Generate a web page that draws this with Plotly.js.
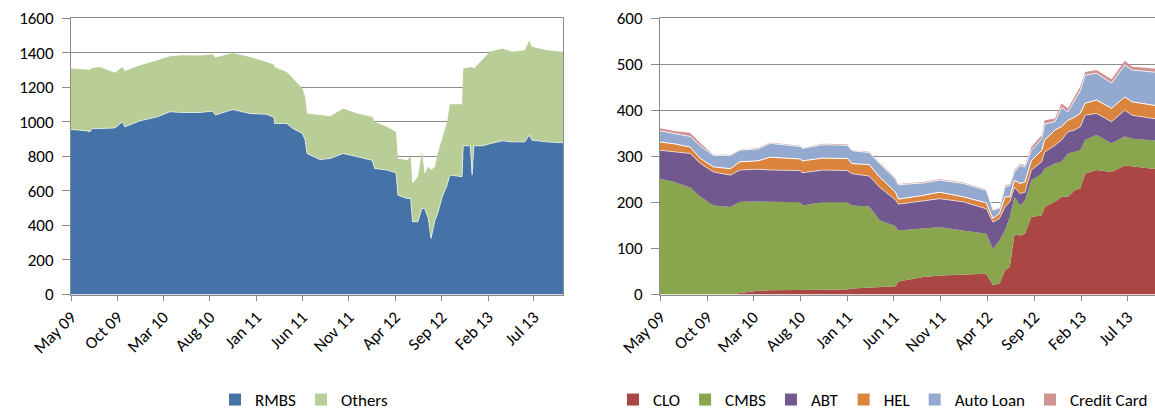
<!DOCTYPE html>
<html><head><meta charset="utf-8">
<script src="https://cdn.plot.ly/plotly-3.0.1.min.js"></script>
<style>html,body{margin:0;padding:0;overflow:hidden;background:#fff}#chart{width:1158px;height:410px}</style>
</head><body><div id="chart"></div><script>
// ---- Left chart data ----
const leftDates = ['2009-05-01','2009-06-22','2009-07-01','2009-07-10','2009-08-04','2009-09-23','2009-10-17','2009-10-25','2009-12-15','2010-02-10','2010-03-22','2010-05-04','2010-06-28','2010-08-10','2010-08-19','2010-10-15','2010-12-10','2011-02-03','2011-02-28','2011-03-01','2011-04-10','2011-05-01','2011-06-01','2011-06-10','2011-06-16','2011-07-28','2011-09-01','2011-10-13','2011-11-28','2012-01-16','2012-01-25','2012-03-04','2012-04-04','2012-04-10','2012-05-10','2012-05-22','2012-05-28','2012-06-15','2012-06-28','2012-07-07','2012-07-19','2012-07-28','2012-08-10','2012-08-19','2012-09-03','2012-09-19','2012-09-28','2012-11-07','2012-11-11','2012-12-04','2012-12-10','2012-12-16','2013-01-13','2013-02-07','2013-03-20','2013-04-22','2013-06-01','2013-06-16','2013-06-25','2013-08-13','2013-10-05'];
const rmbs = [955,947,940,960,960,964,999,970,1005,1028,1057,1053,1053,1061,1038,1070,1047,1043,1024,990,990,960,932,893,816,781,787,816,797,777,729,720,704,575,556,556,421,421,498,498,440,324,430,469,565,633,691,681,860,860,691,860,860,873,889,883,883,922,893,883,878];
const others = [353,351,360,350,357,319,318,324,322,328,322,332,330,328,333,328,328,303,306,327,298,290,260,251,231,257,245,260,250,251,271,250,237,212,221,241,221,260,328,202,299,396,309,347,347,367,410,420,448,457,626,448,496,531,535,521,531,546,540,531,526];

// ---- Right chart data ----
const rightDates = ['2009-05-01','2009-06-16','2009-08-07','2009-09-10','2009-10-22','2009-12-16','2010-01-16','2010-03-16','2010-04-25','2010-08-01','2010-08-07','2010-10-13','2011-01-01','2011-01-16','2011-03-13','2011-04-16','2011-06-07','2011-06-16','2011-09-04','2011-10-28','2012-01-13','2012-03-28','2012-04-19','2012-05-10','2012-05-28','2012-06-13','2012-06-28','2012-07-16','2012-08-01','2012-08-22','2012-09-25','2012-10-04','2012-11-07','2012-11-28','2012-12-19','2013-01-10','2013-01-28','2013-02-13','2013-03-22','2013-05-10','2013-06-22','2013-07-16','2013-09-22','2013-10-05'];
const clo  = [0,0,0,0,0,0,3,8,9,10,10,10,11,13,15,16,18,28,38,41,43,45,20,24,52,60,130,128,132,168,172,190,201,212,212,226,230,262,270,266,280,278,273,273];
const cmbs = [251,244,232,212,193,190,198,194,192,190,183,190,189,180,176,145,130,111,105,105,96,87,79,93,87,108,82,65,72,80,90,83,83,76,94,83,83,73,76,62,63,60,62,61];
const abt  = [62,66,74,72,73,69,69,70,69,69,71,70,69,69,66,72,57,57,61,62,62,54,58,48,51,33,21,26,18,22,26,36,40,47,47,48,51,54,47,47,57,51,47,47];
const hel  = [18,17,14,11,11,14,18,18,28,25,26,26,26,22,25,22,17,11,11,14,11,13,8,11,22,11,15,22,22,21,25,26,33,29,25,28,29,26,29,29,29,29,29,29];
const autoLoan = [24,23,23,27,25,29,25,26,30,27,27,29,29,28,26,29,28,31,27,26,29,27,18,11,21,25,18,39,33,22,25,35,18,42,18,37,49,61,58,55,69,69,72,72];
const creditCard = [6,5,8,6,1,1,1,2,2,2,1,2,2,1,2,2,2,2,2,2,2,2,1,2,3,3,4,3,3,7,8,8,7,9,8,7,9,7,7,8,9,7,8,8];

const leftNames = ['RMBS','Others'];
const leftColors = ['#4572A7','#B9CD96'];
const rightNames = ['CLO','CMBS','ABT','HEL','Auto Loan','Credit Card'];
const rightColors = ['#AA4643','#89A54E','#71588F','#DB843D','#93A9CF','#D19392'];
const xRange = ['2009-05-01','2013-10-05'];

const W = 1158, H = 410;
const GRID = '#8c8c8c';
const FONT = {family: 'Carlito, Lato, sans-serif', size: 17, color: '#000'};

const traces = [];
const leftSeries = [rmbs, others];
leftSeries.forEach((s, i) => {
  traces.push({x: leftDates, y: s, type: 'scatter', mode: 'lines', stackgroup: 'L',
    fillcolor: leftColors[i], line: {width: i === 0 ? 0.6 : 0, color: '#ffffff'},
    name: leftNames[i], showlegend: false, xaxis: 'x', yaxis: 'y', hoverinfo: 'skip'});
});
const rightSeries = [clo, cmbs, abt, hel, autoLoan, creditCard];
const whiteTop = [0, 0, 0.6, 1, 0.8, 0];
rightSeries.forEach((s, i) => {
  traces.push({x: rightDates, y: s, type: 'scatter', mode: 'lines', stackgroup: 'R',
    fillcolor: rightColors[i], line: {width: whiteTop[i], color: '#ffffff'},
    name: rightNames[i], showlegend: false, xaxis: 'x2', yaxis: 'y2', hoverinfo: 'skip'});
});
// legend entries (square swatches)
leftNames.forEach((n, i) => traces.push({x: [null], y: [null], type: 'scatter', mode: 'markers',
  marker: {symbol: 'square', size: 12, color: leftColors[i]}, name: n, legend: 'legend', xaxis: 'x', yaxis: 'y'}));
rightNames.forEach((n, i) => traces.push({x: [null], y: [null], type: 'scatter', mode: 'markers',
  marker: {symbol: 'square', size: 12, color: rightColors[i]}, name: n, legend: 'legend2', xaxis: 'x2', yaxis: 'y2'}));

const yDom = [(H - 294.5) / H, (H - 18) / H];
function xAxis(dom, anchor) {
  return {domain: dom, anchor: anchor, type: 'date', range: xRange, tickmode: 'linear', tick0: '2009-05-01',
    dtick: 'M5', tickformat: '%b %y', tickangle: -45, ticks: 'outside', ticklen: 5, tickcolor: GRID,
    showline: true, linecolor: GRID, linewidth: 1, mirror: true, showgrid: false, zeroline: false,
    tickfont: FONT, fixedrange: true, automargin: false};
}
function yAxis(max, step, anchor) {
  return {domain: yDom, anchor: anchor, range: [0, max], tickmode: 'linear', tick0: 0, dtick: step,
    ticks: 'outside', ticklen: 8, tickcolor: GRID, showline: true, linecolor: GRID, linewidth: 1, mirror: true,
    showgrid: true, gridcolor: GRID, gridwidth: 1, zeroline: false, tickfont: FONT, ticklabelstandoff: 5,
    fixedrange: true, automargin: false};
}
const layout = {
  width: W, height: H, margin: {l: 0, r: 0, t: 0, b: 0, autoexpand: false}, paper_bgcolor: '#fff', plot_bgcolor: '#fff',
  font: FONT, hovermode: false, showlegend: true,
  xaxis: xAxis([71 / W, 563 / W], 'y'),
  yaxis: yAxis(1600, 200, 'x'),
  xaxis2: xAxis([660 / W, 1157 / W], 'y2'),
  yaxis2: yAxis(600, 100, 'x2'),
  legend: {orientation: 'h', x: 304 / W, xanchor: 'center', y: 10 / H, yanchor: 'middle',
    font: FONT, itemwidth: 30, traceorder: 'normal', bgcolor: 'rgba(0,0,0,0)'},
  legend2: {orientation: 'h', x: 1153 / W, xanchor: 'right', y: 10 / H, yanchor: 'middle',
    font: FONT, itemwidth: 30, traceorder: 'normal', bgcolor: 'rgba(0,0,0,0)'}
};
Plotly.newPlot('chart', traces, layout, {staticPlot: true, displayModeBar: false});
</script></body></html>
